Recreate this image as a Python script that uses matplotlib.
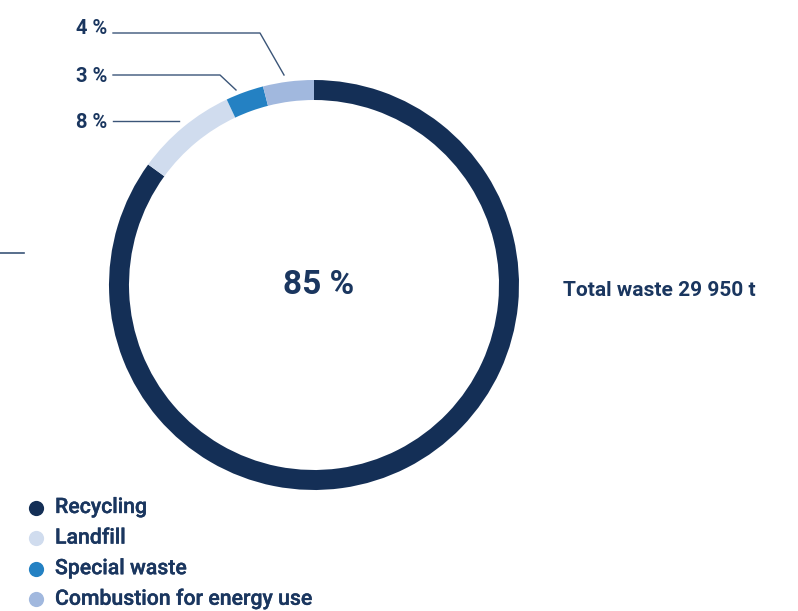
import numpy as np
import matplotlib.pyplot as plt
import matplotlib.patheffects as pe

plt.rcParams['font.family'] = ['Roboto', 'DejaVu Sans']

# waste shares, clockwise from 12 o'clock
labels = ['Recycling', 'Landfill', 'Special waste', 'Combustion for energy use']
shares = [85, 8, 3, 4]
colors = ['#142f56', '#d0dcee', '#2481c3', '#a1b8de']
total_label = 'Total waste 29 950 t'

TEXT = '#1a365f'
W, H = 798, 611
CX, CY = 314, H - 285
R, RING = 205, 20

fig = plt.figure(figsize=(W / 100, H / 100), dpi=100)
ax = fig.add_axes([0, 0, 1, 1])

wedges, _ = ax.pie(shares, colors=colors, startangle=90, counterclock=False,
                   center=(CX, CY), radius=R, frame=True,
                   wedgeprops=dict(width=RING, linewidth=0))
ax.set_xlim(0, W)
ax.set_ylim(0, H)
ax.set_aspect('equal')
ax.axis('off')

ax.text(CX + 5, CY, f'{shares[0]} %', ha='center', va='center',
        fontsize=24, fontweight='bold', color=TEXT)
ax.text(563, H - 290, total_label, ha='left', va='center',
        fontsize=15, fontweight='bold', color=TEXT)

# leader lines for the small slices: (label y, line y, bend x, end x, end y) in pixels
leaders = {1: (122, 121, 179, 179, 121),
           2: (76, 75, 220, 236, 90),
           3: (28, 33, 260, 284, 75)}
for i, (ty, ly, bx, ex, ey) in leaders.items():
    ax.plot([113, bx, ex], [H - ly, H - ly, H - ey], color='#3b5578', lw=1)
    ax.text(107, H - ty, f'{shares[i]} %', ha='right', va='center',
            fontsize=14.5, fontweight='bold', color=TEXT)

ax.plot([0, 24], [H - 253, H - 253], color='#3b5578', lw=1.2)

# legend
thick = [pe.withStroke(linewidth=0.25, foreground=TEXT)]
for k, (lab, c) in enumerate(zip(labels, colors)):
    y = H - 507.5 - k * 30.6
    ax.scatter([36], [y], s=120, color=c, linewidths=0)
    ax.text(55, y, lab, ha='left', va='center', fontsize=15.3,
            fontweight='medium', color=TEXT, path_effects=thick)

fig.savefig('out.png', dpi=100)
